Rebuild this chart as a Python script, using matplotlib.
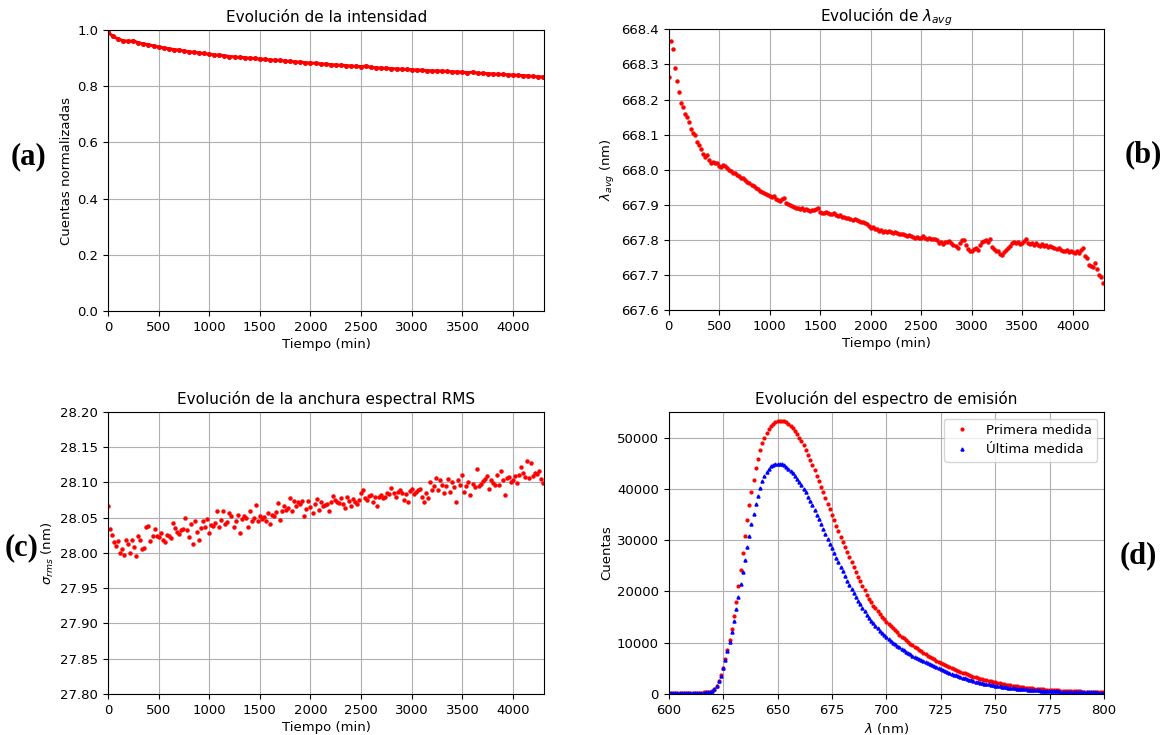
import numpy as np
import matplotlib.pyplot as plt
from matplotlib.ticker import FormatStrFormatter, MultipleLocator

# Intensidad normalizada, una medida cada 50 min
intensity_step = 50
intensity = [
    0.992, 0.978, 0.968, 0.963, 0.960, 0.962, 0.955, 0.951, 0.948, 0.944,
    0.940, 0.937, 0.934, 0.931, 0.929, 0.926, 0.923, 0.921, 0.919, 0.917,
    0.914, 0.912, 0.911, 0.909, 0.906, 0.905, 0.903, 0.902, 0.900, 0.899,
    0.897, 0.896, 0.894, 0.893, 0.892, 0.890, 0.889, 0.887, 0.886, 0.884,
    0.883, 0.882, 0.880, 0.879, 0.877, 0.876, 0.875, 0.874, 0.872, 0.871,
    0.870, 0.872, 0.867, 0.866, 0.865, 0.864, 0.863, 0.862, 0.861, 0.860,
    0.859, 0.858, 0.857, 0.856, 0.855, 0.855, 0.854, 0.853, 0.852, 0.851,
    0.850, 0.849, 0.850, 0.847, 0.846, 0.845, 0.844, 0.843, 0.842, 0.841,
    0.840, 0.839, 0.838, 0.837, 0.835, 0.834, 0.833,
]

# lambda_avg y sigma_rms, una medida cada 20 min
sample_step = 20
lambda_avg = [
    668.265, 668.368, 668.345, 668.290, 668.252, 668.222, 668.190, 668.178, 668.160, 668.150,
    668.135, 668.115, 668.105, 668.098, 668.078, 668.070, 668.058, 668.045, 668.037, 668.042,
    668.028, 668.020, 668.022, 668.018, 668.020, 668.012, 668.008, 668.014, 668.010, 668.004,
    668.000, 667.997, 667.992, 667.990, 667.986, 667.983, 667.978, 667.976, 667.972, 667.966,
    667.962, 667.958, 667.953, 667.948, 667.945, 667.940, 667.937, 667.934, 667.932, 667.928,
    667.926, 667.922, 667.924, 667.918, 667.913, 667.910, 667.916, 667.920, 667.905, 667.902,
    667.900, 667.897, 667.895, 667.892, 667.890, 667.888, 667.890, 667.885, 667.887, 667.884,
    667.882, 667.885, 667.886, 667.889, 667.892, 667.880, 667.878, 667.876, 667.879, 667.877,
    667.875, 667.874, 667.876, 667.872, 667.868, 667.870, 667.865, 667.866, 667.862, 667.864,
    667.860, 667.858, 667.860, 667.857, 667.855, 667.852, 667.850, 667.847, 667.845, 667.840,
    667.833, 667.838, 667.832, 667.830, 667.826, 667.828, 667.824, 667.826, 667.823, 667.825,
    667.822, 667.820, 667.822, 667.819, 667.818, 667.816, 667.818, 667.815, 667.812, 667.814,
    667.810, 667.808, 667.807, 667.809, 667.805, 667.806, 667.811, 667.806, 667.804, 667.805,
    667.803, 667.804, 667.802, 667.800, 667.790, 667.794, 667.789, 667.795, 667.793, 667.796,
    667.792, 667.786, 667.782, 667.778, 667.790, 667.800, 667.801, 667.785, 667.775, 667.770,
    667.768, 667.775, 667.778, 667.772, 667.785, 667.794, 667.798, 667.801, 667.795, 667.803,
    667.780, 667.774, 667.770, 667.769, 667.760, 667.756, 667.765, 667.772, 667.778, 667.784,
    667.790, 667.794, 667.790, 667.793, 667.788, 667.792, 667.797, 667.802, 667.790, 667.788,
    667.791, 667.787, 667.790, 667.785, 667.783, 667.788, 667.784, 667.786, 667.781, 667.782,
    667.779, 667.777, 667.775, 667.776, 667.772, 667.770, 667.768, 667.772, 667.766, 667.769,
    667.765, 667.762, 667.768, 667.764, 667.772, 667.776, 667.755, 667.750, 667.730, 667.726,
    667.722, 667.733, 667.718, 667.700, 667.695, 667.676,
]

sigma_rms = [
    28.066, 28.034, 28.026, 28.015, 28.010, 28.017, 28.000, 28.005, 27.997, 28.018,
    28.013, 28.000, 28.019, 28.009, 27.996, 28.024, 28.018, 28.006, 28.007, 28.037,
    28.038, 28.017, 28.024, 28.034, 28.024,
    28.022, 28.029, 28.019, 28.016, 28.026, 28.024, 28.021, 28.043, 28.035, 28.030,
    28.027, 28.033, 28.034, 28.050, 28.033, 28.023, 28.041, 28.013, 28.045, 28.030,
    28.019, 28.036, 28.045, 28.037, 28.048,
    28.029, 28.040, 28.038, 28.043, 28.059, 28.037, 28.047, 28.059, 28.041, 28.044,
    28.056, 28.052, 28.037, 28.046, 28.054, 28.029, 28.048, 28.052, 28.049, 28.037,
    28.060, 28.046, 28.050, 28.068, 28.045,
    28.052, 28.048, 28.051, 28.045, 28.056, 28.041, 28.054, 28.053, 28.058, 28.071,
    28.047, 28.059, 28.067, 28.061, 28.064, 28.078, 28.060, 28.074, 28.067, 28.072,
    28.069, 28.074, 28.053, 28.062, 28.074,
    28.065, 28.056, 28.070, 28.076, 28.061, 28.073, 28.066, 28.068, 28.070, 28.060,
    28.073, 28.081, 28.075, 28.073, 28.071, 28.078, 28.069, 28.064, 28.080, 28.074,
    28.067, 28.077, 28.072, 28.069, 28.075,
    28.085, 28.090, 28.078, 28.075, 28.081, 28.082, 28.072, 28.079, 28.067, 28.080,
    28.082, 28.078, 28.080, 28.085, 28.083, 28.092, 28.085, 28.080, 28.087, 28.090,
    28.085, 28.075, 28.083, 28.073, 28.088,
    28.091, 28.084, 28.087, 28.089, 28.091, 28.080, 28.073, 28.085, 28.078, 28.100,
    28.090, 28.095, 28.106, 28.090, 28.103, 28.096, 28.085, 28.095, 28.105, 28.087,
    28.100, 28.094, 28.073, 28.103, 28.097,
    28.111, 28.086, 28.095, 28.100, 28.082, 28.098, 28.093, 28.119, 28.095, 28.098,
    28.102, 28.105, 28.109, 28.091, 28.104, 28.099, 28.097, 28.111, 28.097, 28.116,
    28.103, 28.082, 28.106, 28.108, 28.100,
    28.104, 28.109, 28.099, 28.111, 28.122, 28.113, 28.108, 28.130, 28.106, 28.128,
    28.109, 28.114, 28.112, 28.116, 28.105, 28.099,
]

# Espectros de emision, 600-800 nm cada 1 nm
wl_start = 600
first_spectrum = [
    200, 200, 200, 200, 200, 210, 210, 210, 220, 220,
    230, 230, 240, 250, 260, 280, 300, 330, 380, 470,
    650, 1000, 1600, 2500, 3700, 5100, 6800, 8600, 10500, 12700,
    15200, 18000, 21000, 24200, 27500, 30800, 33900, 36800, 39400, 41800,
    44000, 45900, 47500, 48900, 50000, 50900, 51700, 52300, 52700, 53000,
    53200, 53300, 53300, 53200, 53000, 52700, 52300, 51800, 51300, 50700,
    50000, 49300, 48500, 47600, 46700, 45700, 44700, 43700, 42600, 41500,
    40400, 39300, 38200, 37100, 36000, 34900, 33900, 32800, 31700, 30700,
    29700, 28700, 27700, 26700, 25700, 24800, 23800, 22900, 22000, 21100,
    20200, 19400, 18600, 17900, 17200, 16700, 16200, 15600, 15100, 14600,
    14100, 13700, 13200, 12800, 12400, 12000, 11600, 11200, 10900, 10500,
    10200, 9800, 9500, 9200, 8900, 8600, 8300, 8000, 7750, 7500,
    7250, 7000, 6750, 6500, 6250, 6000, 5800, 5600, 5400, 5200,
    5000, 4800, 4600, 4450, 4300, 4150, 4000, 3850, 3700, 3550,
    3400, 3250, 3120, 3000, 2880, 2760, 2650, 2540, 2440, 2340,
    2250, 2150, 2060, 1980, 1900, 1820, 1740, 1670, 1600, 1540,
    1480, 1420, 1360, 1300, 1250, 1200, 1150, 1100, 1060, 1020,
    980, 940, 900, 870, 840, 810, 780, 750, 720, 700,
    670, 650, 630, 610, 590, 570, 550, 530, 510, 500,
    480, 470, 450, 440, 430, 420, 410, 400, 390, 380,
    370,
]

last_spectrum = [
    170, 170, 170, 170, 170, 180, 180, 180, 190, 190,
    200, 200, 210, 220, 230, 250, 270, 300, 330, 420,
    600, 950, 1550, 2450, 3600, 5000, 6600, 8300, 10100, 12100,
    14300, 16600, 19000, 21400, 23800, 26200, 28600, 30900, 33100, 35100,
    37000, 38700, 40200, 41500, 42500, 43300, 43900, 44400, 44700, 44850,
    44900, 44900, 44800, 44600, 44300, 43900, 43500, 43000, 42500, 41900,
    41300, 40700, 40000, 39300, 38500, 37700, 36800, 35900, 35000, 34100,
    33200, 32200, 31200, 30300, 29300, 28400, 27500, 26600, 25700, 24800,
    23900, 23000, 22100, 21300, 20500, 19700, 18900, 18200, 17500, 16800,
    16100, 15500, 14900, 14300, 13800, 13300, 12800, 12300, 11900, 11500,
    11100, 10700, 10300, 10000, 9700, 9400, 9100, 8800, 8500, 8250,
    8000, 7750, 7500, 7250, 7000, 6800, 6600, 6400, 6200, 6000,
    5800, 5600, 5400, 5250, 5100, 4900, 4700, 4500, 4300, 4120,
    3950, 3780, 3620, 3470, 3320, 3180, 3040, 2910, 2780, 2660,
    2540, 2430, 2320, 2220, 2120, 2030, 1940, 1860, 1780, 1700,
    1630, 1560, 1490, 1430, 1370, 1310, 1250, 1200, 1150, 1100,
    1050, 1010, 970, 930, 890, 850, 820, 790, 760, 730,
    700, 670, 650, 620, 600, 580, 560, 540, 520, 500,
    480, 460, 450, 430, 420, 400, 390, 380, 370, 360,
    350, 340, 330, 320, 310, 300, 295, 290, 285, 280,
    275,
]

t_int = np.arange(len(intensity)) * intensity_step
t_samp = np.arange(len(lambda_avg)) * sample_step
t_sig = np.arange(len(sigma_rms)) * sample_step
wl = wl_start + np.arange(len(first_spectrum))

plt.rcParams['font.size'] = 9.5
plt.rcParams['axes.titlesize'] = 11
plt.rcParams['axes.labelsize'] = 9.5
plt.rcParams['xtick.labelsize'] = 9.5
plt.rcParams['ytick.labelsize'] = 9.5
plt.rcParams['axes.labelpad'] = 3.0

fig = plt.figure(figsize=(11.67, 7.35), dpi=100)
ax_a = fig.add_axes([0.0925, 0.577, 0.374, 0.382])
ax_b = fig.add_axes([0.573, 0.578, 0.373, 0.382])
ax_c = fig.add_axes([0.0925, 0.0558, 0.374, 0.3837])
ax_d = fig.add_axes([0.573, 0.0558, 0.373, 0.3837])

t_max = 4310

# (a) intensidad
ax_a.plot(t_int, intensity, '-', color='red', lw=2.2)
ax_a.plot(t_int, intensity, 'o', color='red', ms=2.6)
ax_a.set_xlim(0, t_max)
ax_a.set_ylim(0, 1)
ax_a.set_title('Evolución de la intensidad')
ax_a.set_xlabel('Tiempo (min)')
ax_a.set_ylabel('Cuentas normalizadas')

# (b) longitud de onda media
ax_b.plot(t_samp, lambda_avg, 'o', color='red', ms=2.2)
ax_b.set_xlim(0, t_max)
ax_b.set_ylim(667.6, 668.4)
ax_b.yaxis.set_major_locator(MultipleLocator(0.1))
ax_b.yaxis.set_major_formatter(FormatStrFormatter('%.1f'))
ax_b.set_title(r'Evolución de $\lambda_{avg}$')
ax_b.set_xlabel('Tiempo (min)')
ax_b.set_ylabel(r'$\lambda_{avg}$ (nm)')

# (c) anchura RMS
ax_c.plot(t_sig, sigma_rms, 'o', color='red', ms=2.2)
ax_c.set_xlim(0, t_max)
ax_c.set_ylim(27.8, 28.2)
ax_c.yaxis.set_major_locator(MultipleLocator(0.05))
ax_c.yaxis.set_major_formatter(FormatStrFormatter('%.2f'))
ax_c.set_title('Evolución de la anchura espectral RMS')
ax_c.set_xlabel('Tiempo (min)')
ax_c.set_ylabel(r'$\sigma_{rms}$ (nm)')

for ax in (ax_a, ax_b, ax_c):
    ax.xaxis.set_major_locator(MultipleLocator(500))

# (d) espectros
ax_d.plot(wl, first_spectrum, 'o', color='red', ms=2.0, label='Primera medida')
ax_d.plot(wl, last_spectrum, '^', color='blue', ms=2.2, label='Última medida')
ax_d.set_xlim(600, 800)
ax_d.set_ylim(0, 55000)
ax_d.xaxis.set_major_locator(MultipleLocator(25))
ax_d.set_title('Evolución del espectro de emisión')
ax_d.set_xlabel(r'$\lambda$ (nm)')
ax_d.set_ylabel('Cuentas')
ax_d.legend(loc='upper right', fontsize=9.5)

for ax in (ax_a, ax_b, ax_c, ax_d):
    ax.grid(True)

# etiquetas de panel
panel_font = dict(family='Liberation Serif', fontsize=22, fontweight='bold',
                  ha='center', va='center')
fig.text(28 / 1167, 1 - 157 / 735, '(a)', **panel_font)
fig.text(1143 / 1167, 1 - 155 / 735, '(b)', **panel_font)
fig.text(22 / 1167, 1 - 548 / 735, '(c)', **panel_font)
fig.text(1138 / 1167, 1 - 556 / 735, '(d)', **panel_font)

fig.savefig('out.png', dpi=100)
